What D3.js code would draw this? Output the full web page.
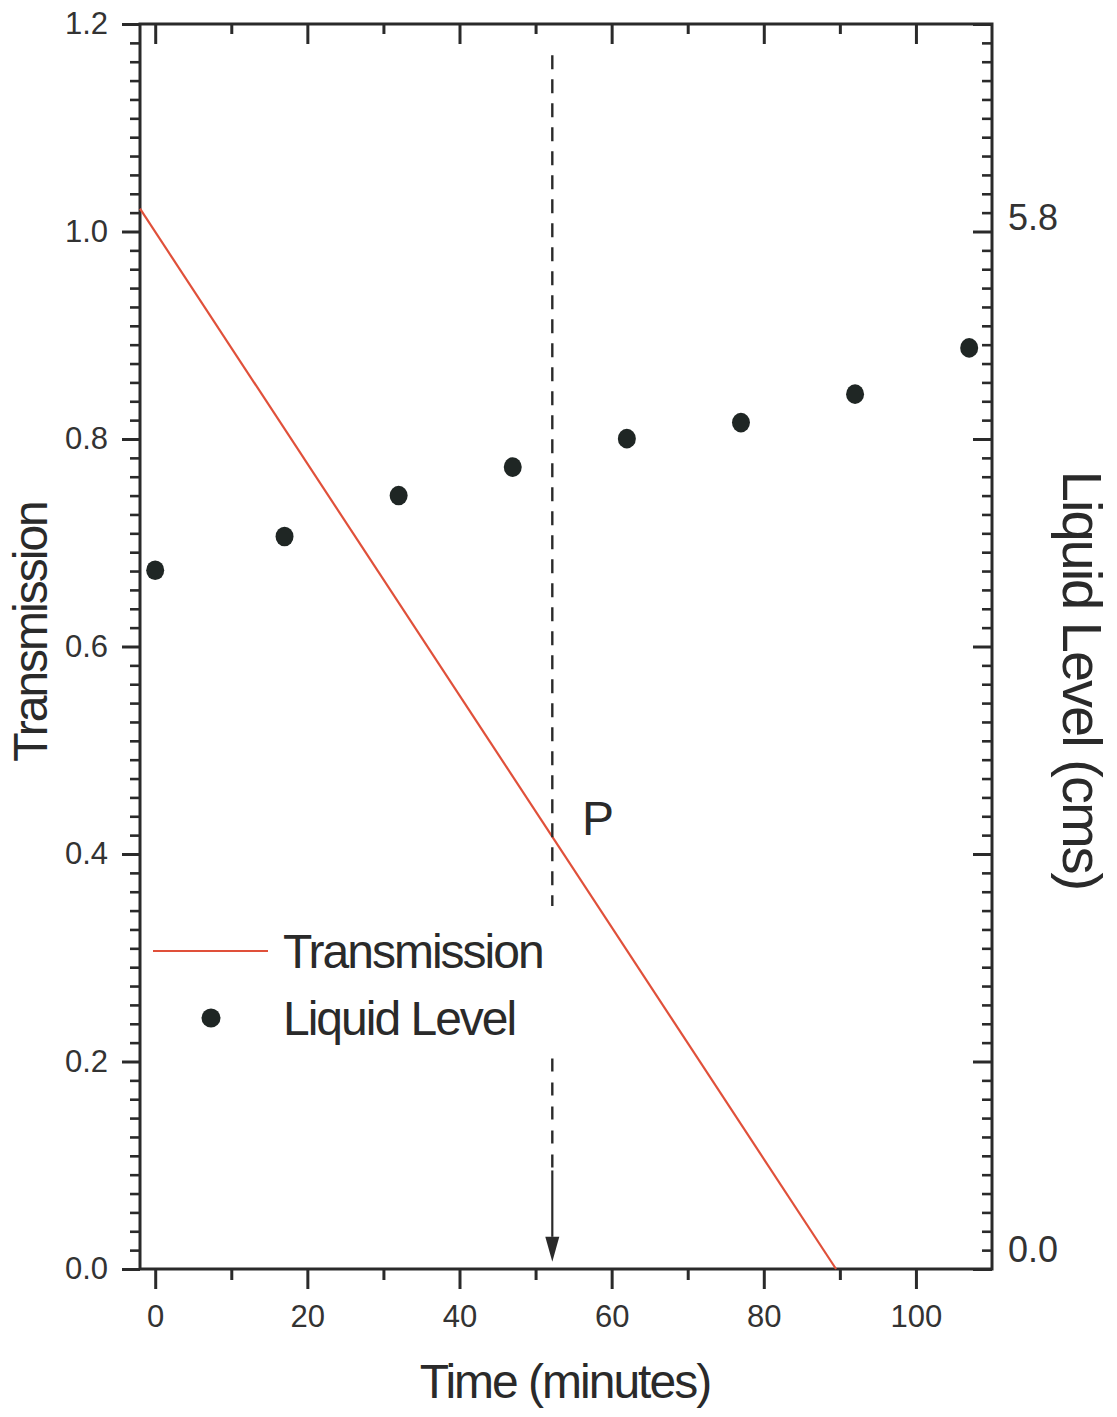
<!DOCTYPE html>
<html>
<head>
<meta charset="utf-8">
<script src="https://cdn.jsdelivr.net/npm/d3@7"></script>
<style>
  html, body { margin: 0; padding: 0; background: #fff; }
  svg { display: block; font-family: "Liberation Sans", Arial, sans-serif; }
</style>
</head>
<body>
<svg id="chart" width="1117" height="1417"></svg>
<script>
// Time axis (minutes)
const timeMajorTicks = [0, 20, 40, 60, 80, 100];
const timeMinorTicks = [10, 30, 50, 70, 90, 110];

// Transmission axis
const transMajorTicks = [0, 0.2, 0.4, 0.6, 0.8, 1.0, 1.2];
const transMinorSteps = 11;           // minor intervals between major ticks

// Liquid-level axis labels (cm)
const levelTickLabels = [0.0, 5.8];

// Transmission fit line: end points [time, transmission]
const transTime = [-2, 89.5];
const transValue = [1.022, 0];

// Liquid level readings
const levelTime = [0, 17, 32, 47, 62, 77, 92, 107];
const levelValue = [3.82, 4.01, 4.24, 4.40, 4.56, 4.65, 4.81, 5.07];

// Marker at point P
const markerTime = 52.2;
const markerUpper = [1.17, 0.35];     // dashed, transmission units
const markerLowerDash = [0.203, 0.095];
const markerLowerSolid = [0.095, 0.031];
const markerTip = 0.007;
const pointLabel = "P";

const svg = d3.select("#chart");
const ink = "#2a2a2a";
const red = "#e0503a";

const x = d3.scaleLinear().domain([-2, 110]).range([140, 992]);
const y = d3.scaleLinear().domain([0, 1.2]).range([1269, 24]);
const yR = d3.scaleLinear().domain([0, 5.8]).range([1250, 218]);

const transMinor = [];
for (let i = 0; i < transMajorTicks.length - 1; i++) {
  for (let k = 1; k < transMinorSteps; k++) {
    transMinor.push(transMajorTicks[i] + (transMajorTicks[i + 1] - transMajorTicks[i]) * k / transMinorSteps);
  }
}

function styleAxis(g, width) {
  g.select(".domain").remove();
  g.selectAll(".tick line").attr("stroke", ink).attr("stroke-width", width);
  g.selectAll(".tick text").attr("fill", "#333").style("font-family", '"Liberation Sans", Arial, sans-serif');
}

// Bottom axis
svg.append("g").attr("transform", `translate(0,${y(0)})`)
  .call(d3.axisBottom(x).tickValues(timeMajorTicks).tickSize(20).tickPadding(16).tickFormat(d3.format("d")))
  .call(g => styleAxis(g, 3))
  .call(g => g.selectAll(".tick text").attr("font-size", 31));
svg.append("g").attr("transform", `translate(0,${y(0)})`)
  .call(d3.axisBottom(x).tickValues(timeMinorTicks.filter(d => d < 110)).tickSize(11).tickFormat(""))
  .call(g => styleAxis(g, 3));

// Top axis (inward ticks)
svg.append("g").attr("transform", `translate(0,${y(1.2)})`)
  .call(d3.axisTop(x).tickValues(timeMajorTicks).tickSize(-20).tickFormat(""))
  .call(g => styleAxis(g, 3));
svg.append("g").attr("transform", `translate(0,${y(1.2)})`)
  .call(d3.axisTop(x).tickValues(timeMinorTicks.filter(d => d < 110)).tickSize(-10).tickFormat(""))
  .call(g => styleAxis(g, 3));

// Left axis
svg.append("g").attr("transform", `translate(${x(-2)},0)`)
  .call(d3.axisLeft(y).tickValues(transMajorTicks).tickSize(18).tickPadding(14).tickFormat(d3.format(".1f")))
  .call(g => styleAxis(g, 3))
  .call(g => g.selectAll(".tick text").attr("font-size", 31));
svg.append("g").attr("transform", `translate(${x(-2)},0)`)
  .call(d3.axisLeft(y).tickValues(transMinor).tickSize(10).tickFormat(""))
  .call(g => styleAxis(g, 2.6));

// Right axis (inward ticks) with liquid-level labels
svg.append("g").attr("transform", `translate(${x(110)},0)`)
  .call(d3.axisRight(y).tickValues(transMajorTicks).tickSize(-19).tickFormat(""))
  .call(g => styleAxis(g, 3));
svg.append("g").attr("transform", `translate(${x(110)},0)`)
  .call(d3.axisRight(y).tickValues(transMinor).tickSize(-10).tickFormat(""))
  .call(g => styleAxis(g, 2.6));
svg.append("g").attr("transform", `translate(${x(110)},0)`)
  .call(d3.axisRight(yR).tickValues(levelTickLabels).tickSize(0).tickPadding(16).tickFormat(d3.format(".1f")))
  .call(g => styleAxis(g, 0))
  .call(g => g.selectAll(".tick text").attr("font-size", 36));

// Frame
svg.append("rect")
  .attr("x", x(-2)).attr("y", y(1.2))
  .attr("width", x(110) - x(-2)).attr("height", y(0) - y(1.2))
  .attr("fill", "none").attr("stroke", ink).attr("stroke-width", 3);

// Transmission line
const transData = transTime.map((t, i) => ({ t, v: transValue[i] }));
svg.append("path")
  .datum(transData)
  .attr("d", d3.line().x(d => x(d.t)).y(d => y(d.v)))
  .attr("fill", "none").attr("stroke", red).attr("stroke-width", 2.2);

// Liquid level points
svg.append("g").selectAll("ellipse")
  .data(levelTime.map((t, i) => ({ t, v: levelValue[i] })))
  .join("ellipse")
  .attr("cx", d => x(d.t)).attr("cy", d => yR(d.v))
  .attr("rx", 9).attr("ry", 9.8)
  .attr("fill", "#1f2624");

// Vertical marker through P
const mx = x(markerTime);
svg.append("line")
  .attr("x1", mx).attr("x2", mx).attr("y1", y(markerUpper[0])).attr("y2", y(markerUpper[1]))
  .attr("stroke", ink).attr("stroke-width", 2.4).attr("stroke-dasharray", "14,10");
svg.append("line")
  .attr("x1", mx).attr("x2", mx).attr("y1", y(markerLowerDash[0])).attr("y2", y(markerLowerDash[1]))
  .attr("stroke", ink).attr("stroke-width", 2.4).attr("stroke-dasharray", "13,11");
svg.append("line")
  .attr("x1", mx).attr("x2", mx).attr("y1", y(markerLowerSolid[0])).attr("y2", y(markerLowerSolid[1]))
  .attr("stroke", ink).attr("stroke-width", 2.2);
svg.append("path")
  .attr("d", `M${mx - 7},${y(markerLowerSolid[1])} L${mx + 7},${y(markerLowerSolid[1])} L${mx},${y(markerTip)} Z`)
  .attr("fill", ink);

svg.append("text")
  .attr("x", 582).attr("y", 835)
  .attr("font-size", 48).attr("fill", ink)
  .text(pointLabel);

// Legend
const legend = svg.append("g");
legend.append("line").attr("x1", 153).attr("x2", 268).attr("y1", 951).attr("y2", 951)
  .attr("stroke", red).attr("stroke-width", 2.2);
legend.append("circle").attr("cx", 211).attr("cy", 1018).attr("r", 9.5).attr("fill", "#1f2624");
legend.append("text").attr("x", 283).attr("y", 968).attr("font-size", 48)
  .attr("letter-spacing", -2).attr("fill", ink).text("Transmission");
legend.append("text").attr("x", 283).attr("y", 1035).attr("font-size", 48)
  .attr("letter-spacing", -2).attr("fill", ink).text("Liquid Level");

// Axis titles
svg.append("text")
  .attr("x", 565).attr("y", 1398).attr("text-anchor", "middle")
  .attr("font-size", 48).attr("letter-spacing", -2).attr("fill", ink)
  .text("Time (minutes)");
svg.append("text")
  .attr("transform", "translate(47,632) rotate(-90)").attr("text-anchor", "middle")
  .attr("font-size", 48).attr("letter-spacing", -2).attr("fill", ink)
  .text("Transmission");
svg.append("text")
  .attr("transform", "translate(1063,680) rotate(90)").attr("text-anchor", "middle")
  .attr("font-size", 56).attr("letter-spacing", -2).attr("fill", ink)
  .text("Liquid Level (cms)");
</script>
</body>
</html>
